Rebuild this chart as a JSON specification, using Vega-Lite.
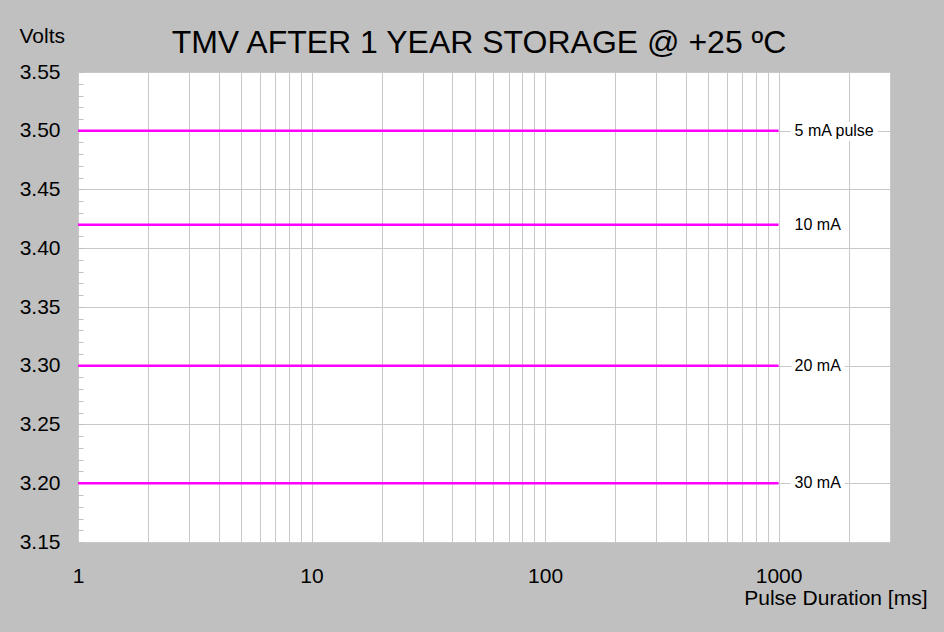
{
  "$schema": "https://vega.github.io/schema/vega-lite/v6.json",
  "width": 812,
  "height": 470,
  "autosize": {"type": "none"},
  "padding": {"left": 78, "top": 72, "right": 54, "bottom": 90},
  "background": "#c0c0c0",
  "config": {
    "font": "Liberation Sans",
    "view": {"stroke": null, "fill": "white"}
  },
  "title": {
    "text": "TMV AFTER 1 YEAR STORAGE @ +25 ºC",
    "fontSize": 32,
    "fontWeight": "normal",
    "color": "black",
    "anchor": "middle",
    "frame": "group",
    "baseline": "alphabetic",
    "offset": -60,
    "dx": -5
  },
  "data": {
    "values": [
      {"current": "5 mA pulse", "volts": 3.50, "start": 1, "end": 1000},
      {"current": "10 mA", "volts": 3.42, "start": 1, "end": 1000},
      {"current": "20 mA", "volts": 3.30, "start": 1, "end": 1000},
      {"current": "30 mA", "volts": 3.20, "start": 1, "end": 1000}
    ]
  },
  "resolve": {"axis": {"y": "independent"}},
  "layer": [
    {
      "mark": {"type": "rule", "color": "#ff00ff", "strokeWidth": 2.5},
      "encoding": {
        "x": {
          "field": "start",
          "type": "quantitative",
          "scale": {"type": "log", "domain": [1, 3000], "nice": false},
          "axis": {
            "values": [1,2,3,4,5,6,7,8,9,10,20,30,40,50,60,70,80,90,100,200,300,400,500,600,700,800,900,1000,2000,3000],
            "labelExpr": "datum.value == 1 || datum.value == 10 || datum.value == 100 || datum.value == 1000 ? format(datum.value, 'd') : ''",
            "grid": true,
            "gridColor": "#c8c8c8",
            "gridWidth": 1,
            "ticks": false,
            "domain": false,
            "labelOverlap": false,
            "labelFlush": false,
            "labelBound": false,
            "labelFontSize": 21,
            "labelColor": "black",
            "labelPadding": 23,
            "title": "Pulse Duration [ms]",
            "titleFontSize": 21,
            "titleFontWeight": "normal",
            "titleColor": "black",
            "titleAlign": "right",
            "titleBaseline": "alphabetic",
            "titleAnchor": null,
            "titleX": 849,
            "titleY": 62
          }
        },
        "x2": {"field": "end"},
        "y": {
          "field": "volts",
          "type": "quantitative",
          "scale": {"domain": [3.15, 3.55], "nice": false, "zero": false},
          "axis": {
            "orient": "left",
            "values": [3.15, 3.2, 3.25, 3.3, 3.35, 3.4, 3.45, 3.5, 3.55],
            "format": ".2f",
            "grid": true,
            "gridColor": "#c8c8c8",
            "ticks": false,
            "domain": false,
            "labelFlush": false,
            "labelBound": false,
            "labelOverlap": false,
            "labelFontSize": 21,
            "labelColor": "black",
            "labelPadding": 18,
            "title": "Volts",
            "titleAngle": 0,
            "titleFontSize": 21,
            "titleFontWeight": "normal",
            "titleColor": "black",
            "titleAlign": "left",
            "titleBaseline": "alphabetic",
            "titleAnchor": null,
            "titleX": -59,
            "titleY": -30
          }
        }
      }
    },
    {
      "mark": {"type": "text", "align": "left", "baseline": "middle", "dx": 16, "fontSize": 16, "stroke": "white", "strokeWidth": 10, "strokeJoin": "round", "fill": "white"},
      "encoding": {
        "x": {"field": "end", "type": "quantitative"},
        "y": {
          "field": "volts",
          "type": "quantitative",
          "axis": {
            "orient": "left",
            "values": [3.15,3.16,3.17,3.18,3.19,3.2,3.21,3.22,3.23,3.24,3.25,3.26,3.27,3.28,3.29,3.3,3.31,3.32,3.33,3.34,3.35,3.36,3.37,3.38,3.39,3.4,3.41,3.42,3.43,3.44,3.45,3.46,3.47,3.48,3.49,3.5,3.51,3.52,3.53,3.54,3.55],
            "labels": false,
            "grid": false,
            "domain": false,
            "ticks": true,
            "tickSize": -5,
            "tickColor": "#c0c0c0",
            "title": null
          }
        },
        "text": {"field": "current"}
      }
    },
    {
      "mark": {"type": "text", "align": "left", "baseline": "middle", "dx": 16, "fontSize": 16, "color": "black"},
      "encoding": {
        "x": {"field": "end", "type": "quantitative"},
        "y": {"field": "volts", "type": "quantitative", "axis": null},
        "text": {"field": "current"}
      }
    }
  ]
}
